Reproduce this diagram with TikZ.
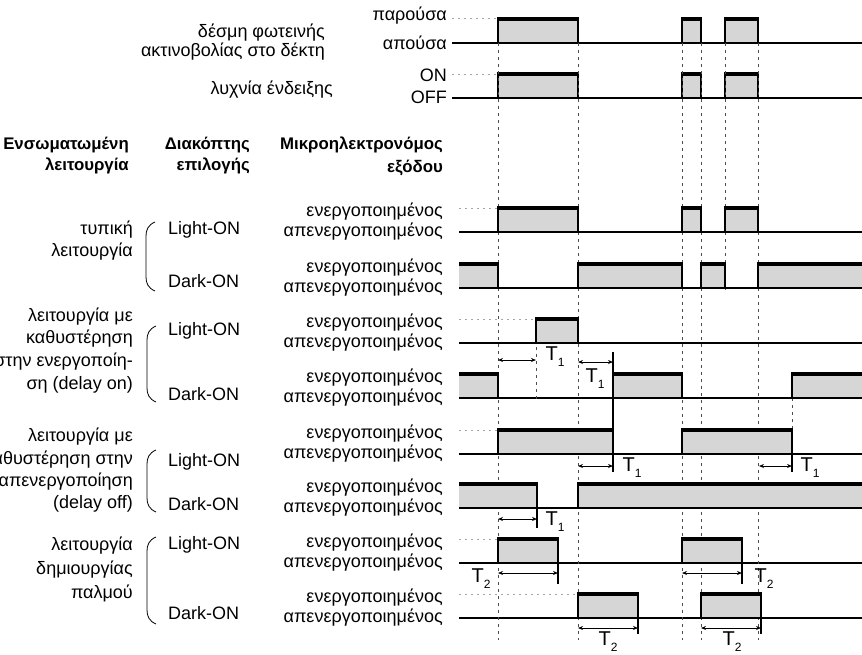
\documentclass[tikz,border=0pt]{standalone}
\usepackage{fontspec}
\setmainfont{Liberation Sans}
\usetikzlibrary{arrows.meta}
\newcommand\Hi{24}
\newcommand\Lft{459}
\newcommand\Rgt{870}
\newcommand\Tsub[1]{T\raisebox{-0.55ex}{\fontsize{12}{12}\selectfont #1}}
\tikzset{
  txt/.style={
    inner sep = 0pt,
    font = \fontsize{18}{20}\selectfont
  },
  txtR/.style={
    txt,
    anchor = east
  },
  txtL/.style={
    txt,
    anchor = west
  },
  head/.style={
    txtR,
    font = \bfseries\fontsize{16.8}{19}\selectfont
  },
  tlabel/.style={
    inner sep = 0pt,
    font = \fontsize{20}{22}\selectfont
  },
  base/.style={
    line width = 1.6pt
  },
  pulsefill/.style={
    fill = gray!32
  },
  pulsetop/.style={
    line width = 4pt
  },
  pulseside/.style={
    line width = 2.3pt
  },
  guide/.style={
    line width = 0.7pt,
    gray!60!black,
    dash pattern = on 3pt off 4pt
  },
  lead/.style={
    line width = 0.6pt,
    gray!70,
    dash pattern = on 2pt off 4pt
  },
  dim/.style={
    line width = 1pt,
    {Stealth[length=5pt,width=4pt]}-{Stealth[length=5pt,width=4pt]}
  },
  ext/.style={
    line width = 1.1pt
  },
  brace/.style={
    line width = 0.8pt
  }
}
% pulse from #1 to #2 over the base line at #3
\newcommand\pulsebox[3]{%
  \fill[pulsefill] (#1,#3) rectangle (#2,#3-\Hi);
  \draw[pulseside] (#1,#3) -- (#1,#3-\Hi) (#2,#3-\Hi) -- (#2,#3) -- (#1,#3);
  \draw[pulsetop] (#1-1.1,#3-\Hi) -- (#2+1.1,#3-\Hi);
}
% pulse already high at the left end of the row
\newcommand\startbox[2]{%
  \fill[pulsefill] (\Lft,#2) rectangle (#1,#2-\Hi);
  \draw[pulseside] (#1,#2-\Hi) -- (#1,#2) -- (\Lft,#2);
  \draw[pulsetop] (\Lft,#2-\Hi) -- (#1+1.1,#2-\Hi);
}
% side brace from #2 to #3 at x = #1
\newcommand\sidebrace[3]{%
  \draw[brace] (#1+9,#2) .. controls (#1+2,#2+3) and (#1,#2+8) .. (#1,#2+14)
    -- (#1,#3-14) .. controls (#1,#3-8) and (#1+2,#3-3) .. (#1+9,#3);
}

\begin{document}
\begin{tikzpicture}[x=1pt,y=-1pt]
  \useasboundingbox (0,0) rectangle (862,654);

  % receiver beam and indicator lamp
  \node[txtR] (beamA) at (325,33) {δέσμη φωτεινής};
  \node[txtR] (beamB) at (325,52) {ακτινοβολίας στο δέκτη};
  \node[txtR] (lamp) at (333,90) {λυχνία ένδειξης};
  \node[txtR] (present) at (447,16) {παρούσα};
  \node[txtR] (absent) at (447,43) {απούσα};
  \node[txtR] (lampon) at (447,75) {ON};
  \node[txtR] (lampoff) at (447,97) {OFF};

  \draw[lead] (452,18) -- (498,18);
  \draw[lead] (452,74) -- (498,74);
  \draw[base] (452,43) -- (\Rgt,43);
  \draw[base] (452,98) -- (\Rgt,98);
  \foreach \a/\b in {498/578, 682/701, 725/758}{
    \pulsebox{\a}{\b}{43}
    \pulsebox{\a}{\b}{98}
  }

  % column heads
  \node[head] (funcA) at (129,145) {Ενσωματωμένη};
  \node[head] (funcB) at (129,166) {λειτουργία};
  \node[head] (selA) at (250,145) {Διακόπτης};
  \node[head] (selB) at (250,166) {επιλογής};
  \node[head] (relA) at (443,145) {Μικροηλεκτρονόμος};
  \node[head] (relB) at (443,168) {εξόδου};

  % modes
  \node[txtR] (typA) at (133,230) {τυπική};
  \node[txtR] (typB) at (133,252) {λειτουργία};
  \node[txtR] (donA) at (133,317) {λειτουργία με};
  \node[txtR] (donB) at (133,339) {καθυστέρηση};
  \node[txtR] (donC) at (133,362) {στην ενεργοποίη-};
  \node[txtR] (donD) at (133,385) {ση (delay on)};
  \node[txtR] (doffA) at (133,437) {λειτουργία με};
  \node[txtR] (doffB) at (133,460) {καθυστέρηση στην};
  \node[txtR] (doffC) at (133,482) {απενεργοποίηση};
  \node[txtR] (doffD) at (133,504) {(delay off)};
  \node[txtR] (pulA) at (133,546) {λειτουργία};
  \node[txtR] (pulB) at (133,570) {δημιουργίας};
  \node[txtR] (pulC) at (133,593) {παλμού};

  \sidebrace{146}{222}{291}
  \sidebrace{147}{326}{402}
  \sidebrace{147}{450}{512}
  \sidebrace{147}{537}{624}

  \node[txtL] (sw1) at (168,230) {Light-ON};
  \node[txtL] (sw2) at (168,281) {Dark-ON};
  \node[txtL] (sw3) at (168,331) {Light-ON};
  \node[txtL] (sw4) at (168,394) {Dark-ON};
  \node[txtL] (sw5) at (168,462) {Light-ON};
  \node[txtL] (sw6) at (168,504) {Dark-ON};
  \node[txtL] (sw7) at (168,545) {Light-ON};
  \node[txtL] (sw8) at (168,613) {Dark-ON};

  % relay states, one pair per row
  \foreach \y [count=\i] in {232,288,343,398,454,508,563,618}{
    \node[txtR] (on\i) at (443,\y-20) {ενεργοποιημένος};
    \node[txtR] (off\i) at (443,\y) {απενεργοποιημένος};
    \draw[base] (\Lft,\y) -- (\Rgt,\y);
  }
  \draw[lead] (\Lft,208) -- (498,208);
  \draw[lead] (\Lft,319) -- (536,319);
  \draw[lead] (\Lft,430) -- (498,430);
  \draw[lead] (\Lft,539) -- (498,539);
  \draw[lead] (\Lft,594) -- (578,594);

  % time marks
  \foreach \x in {498,578,682,701,758}{
    \draw[guide] (\x,43) -- (\x,640);
  }
  \draw[guide] (725,43) -- (725,290);
  \draw[guide] (536,319) -- (536,400);
  \draw[guide] (792,398) -- (792,454);

  % typical
  \foreach \a/\b in {498/578, 682/701, 725/758}{
    \pulsebox{\a}{\b}{232}
  }
  \startbox{498}{288}
  \pulsebox{578}{682}{288}
  \pulsebox{701}{725}{288}
  \pulsebox{758}{\Rgt}{288}

  % delay on
  \pulsebox{536}{578}{343}
  \startbox{498}{398}
  \pulsebox{613}{682}{398}
  \pulsebox{792}{\Rgt}{398}
  \draw[ext] (613,352) -- (613,374);
  \draw[dim] (498,360) -- (536,360);
  \draw[dim] (578,362) -- (613,362);
  \node[tlabel] (d1) at (555,357) {\Tsub{1}};
  \node[tlabel] (d2) at (595,379) {\Tsub{1}};

  % delay off
  \pulsebox{498}{613}{454}
  \pulsebox{682}{792}{454}
  \startbox{537}{508}
  \pulsebox{578}{\Rgt}{508}
  \draw[ext] (613,398) -- (613,430);
  \draw[ext] (613,454) -- (613,472);
  \draw[ext] (792,454) -- (792,472);
  \draw[ext] (537,508) -- (537,528);
  \draw[dim] (578,466) -- (613,466);
  \draw[dim] (759,466) -- (792,466);
  \draw[dim] (498,519) -- (537,519);
  \node[tlabel] (d3) at (632,468) {\Tsub{1}};
  \node[tlabel] (d4) at (810,468) {\Tsub{1}};
  \node[tlabel] (d5) at (555,522) {\Tsub{1}};

  % pulse
  \pulsebox{498}{558}{563}
  \pulsebox{682}{742}{563}
  \pulsebox{578}{638}{618}
  \pulsebox{701}{761}{618}
  \draw[ext] (558,563) -- (558,584);
  \draw[ext] (742,563) -- (742,584);
  \draw[ext] (638,618) -- (638,634);
  \draw[ext] (761,618) -- (761,634);
  \draw[dim] (498,573) -- (558,573);
  \draw[dim] (682,573) -- (742,573);
  \draw[dim] (578,628) -- (638,628);
  \draw[dim] (701,628) -- (761,628);
  \node[tlabel] (p1) at (481,579) {\Tsub{2}};
  \node[tlabel] (p2) at (764,579) {\Tsub{2}};
  \node[tlabel] (p3) at (608,642) {\Tsub{2}};
  \node[tlabel] (p4) at (732,642) {\Tsub{2}};
\end{tikzpicture}
\end{document}
